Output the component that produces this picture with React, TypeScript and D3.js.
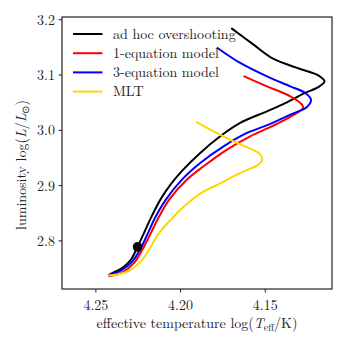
import * as d3 from 'd3';

// evolutionary tracks (log Teff, log L)
const blackT = [4.2411, 4.2343, 4.2293, 4.2254, 4.2215, 4.2173, 4.2114, 4.2055, 4.1990, 4.1884, 4.1766, 4.1648, 4.1490, 4.1382, 4.1274, 4.1187, 4.1150, 4.1185, 4.1293, 4.1451, 4.1569, 4.1697];
const blackL = [2.7409, 2.7512, 2.7662, 2.7892, 2.8150, 2.8430, 2.8774, 2.9036, 2.9271, 2.9591, 2.9892, 3.0134, 3.0344, 3.0492, 3.0664, 3.0781, 3.0886, 3.0989, 3.1110, 3.1291, 3.1550, 3.1839];

const redT = [4.2421, 4.2343, 4.2274, 4.2225, 4.2175, 4.2126, 4.2067, 4.1962, 4.1864, 4.1726, 4.1589, 4.1481, 4.1394, 4.1313, 4.1277, 4.1283, 4.1352, 4.1490, 4.1624];
const redL = [2.7360, 2.7432, 2.7602, 2.7843, 2.8145, 2.8445, 2.8747, 2.9109, 2.9349, 2.9651, 2.9891, 3.0043, 3.0175, 3.0315, 3.0405, 3.0465, 3.0615, 3.0796, 3.0976];

const blueT = [4.2421, 4.2352, 4.2284, 4.2234, 4.2194, 4.2146, 4.2087, 4.1992, 4.1884, 4.1746, 4.1608, 4.1481, 4.1352, 4.1254, 4.1230, 4.1264, 4.1352, 4.1490, 4.1648, 4.1782];
const blueL = [2.7391, 2.7463, 2.7631, 2.7873, 2.8132, 2.8445, 2.8747, 2.9109, 2.9410, 2.9711, 2.9953, 3.0103, 3.0284, 3.0423, 3.0555, 3.0676, 3.0796, 3.0976, 3.1219, 3.1490];

const mltT = [4.2421, 4.2372, 4.2293, 4.2225, 4.2175, 4.2126, 4.2057, 4.1978, 4.1884, 4.1766, 4.1667, 4.1589, 4.1544, 4.1518, 4.1535, 4.1589, 4.1667, 4.1805, 4.1903];
const mltL = [2.7373, 2.7391, 2.7481, 2.7662, 2.7902, 2.8145, 2.8385, 2.8626, 2.8855, 2.9040, 2.9199, 2.9307, 2.9371, 2.9461, 2.9579, 2.9669, 2.9772, 2.9982, 3.0145];

const seriesNames = ['ad hoc overshooting', '1-equation model', '3-equation model', 'MLT'];
const seriesColors = ['#000000', '#ff0000', '#0000ff', '#ffd700'];

const dotT = 4.2254;
const dotL = 2.7892;

const xTicks = [4.25, 4.2, 4.15];
const yTicks = [2.8, 2.9, 3.0, 3.1, 3.2];

const W = 347;
const H = 347;
const margin = { top: 17, right: 15, bottom: 58, left: 62 };
const textStyle = { fontFamily: "'Latin Modern Roman'" };

function App() {
  const x = d3.scaleLinear().domain([4.270, 4.1106]).range([margin.left, W - margin.right]);
  const y = d3.scaleLinear().domain([2.713, 3.205]).range([H - margin.bottom, margin.top]);

  const tracks = [
    blackT.map((t, i) => [t, blackL[i]]),
    redT.map((t, i) => [t, redL[i]]),
    blueT.map((t, i) => [t, blueL[i]]),
    mltT.map((t, i) => [t, mltL[i]]),
  ];

  const line = d3
    .line<number[]>()
    .x((d) => x(d[0]))
    .y((d) => y(d[1]))
    .curve(d3.curveCatmullRom.alpha(0.5));

  const [x0, x1] = x.range();
  const [y0, y1] = y.range();

  return (
    <svg width={W} height={H} style={{ position: 'absolute', left: 0, top: 0, background: '#fff' }}>
      {/* tracks */}
      {tracks.map((tr, i) => (
        <path key={i} d={line(tr) || ''} fill="none" stroke={seriesColors[i]} strokeWidth={2} strokeLinejoin="round" strokeLinecap="round" />
      ))}
      <circle cx={x(dotT)} cy={y(dotL)} r={4.8} fill="#000" />

      {/* frame */}
      <rect x={x0} y={y1} width={x1 - x0} height={y0 - y1} fill="none" stroke="#222" strokeWidth={1.2} />

      {/* y axis */}
      {yTicks.map((t) => (
        <g key={t}>
          <line x1={x0 - 3.5} x2={x0} y1={y(t)} y2={y(t)} stroke="#222" strokeWidth={1} />
          <text x={x0 - 7} y={y(t)} dy="0.35em" textAnchor="end" fontSize={14} fill="#222" style={textStyle}>
            {t.toFixed(1)}
          </text>
        </g>
      ))}
      {/* x axis */}
      {xTicks.map((t) => (
        <g key={t}>
          <line x1={x(t)} x2={x(t)} y1={y0} y2={y0 + 3.5} stroke="#222" strokeWidth={1} />
          <text x={x(t)} y={y0 + 20.5} textAnchor="middle" fontSize={14} fill="#222" style={textStyle}>
            {t.toFixed(2)}
          </text>
        </g>
      ))}

      {/* axis labels */}
      <text x={(x0 + x1) / 2} y={328} textAnchor="middle" fontSize={14} fill="#222" style={textStyle}>
        effective temperature log(<tspan fontStyle="italic">T</tspan>
        <tspan fontSize={10} dy={3}>eff</tspan>
        <tspan dy={-3}>/K)</tspan>
      </text>
      <text transform={`translate(26,${(y0 + y1) / 2 + 12}) rotate(-90)`} textAnchor="middle" fontSize={14} fill="#222" style={textStyle}>
        luminosity log(<tspan fontStyle="italic">L</tspan>/<tspan fontStyle="italic">L</tspan>
        <tspan fontSize={10} dy={3}>⊙</tspan>
        <tspan dy={-3}>)</tspan>
      </text>

      {/* legend */}
      {seriesNames.map((name, i) => (
        <g key={name} transform={`translate(73,${34 + i * 19.2})`}>
          <line x1={0} x2={29.5} y1={0} y2={0} stroke={seriesColors[i]} strokeWidth={2} />
          <text x={40} y={0} dy="0.33em" fontSize={14} fill="#222" style={textStyle}>
            {name}
          </text>
        </g>
      ))}
    </svg>
  );
}

export default App;
